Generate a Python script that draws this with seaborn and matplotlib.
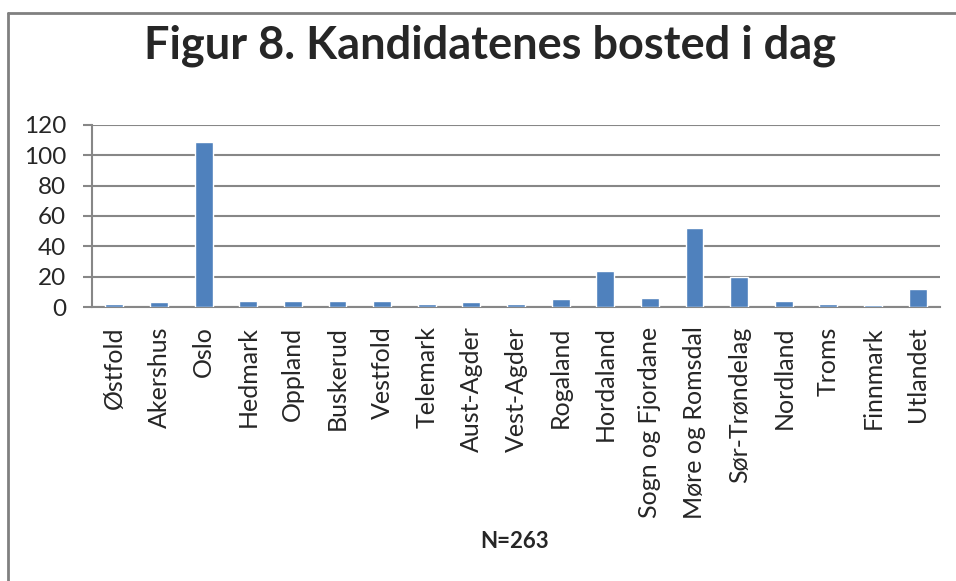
import matplotlib
matplotlib.use("Agg")
import matplotlib.pyplot as plt
import seaborn as sns
import pandas as pd

fylker = ["Østfold", "Akershus", "Oslo", "Hedmark", "Oppland", "Buskerud",
          "Vestfold", "Telemark", "Aust-Agder", "Vest-Agder", "Rogaland",
          "Hordaland", "Sogn og Fjordane", "Møre og Romsdal", "Sør-Trøndelag",
          "Nordland", "Troms", "Finnmark", "Utlandet"]
antall = [2, 3, 109, 4, 4, 4, 4, 2, 3, 2, 5, 24, 6, 52, 20, 4, 2, 1, 12]
y_ticks = [0, 20, 40, 60, 80, 100, 120]

data = pd.DataFrame({"fylke": fylker, "antall": antall})

sns.set_style("white")
plt.rcParams["font.family"] = ["Lato", "DejaVu Sans"]

W, H = 956, 581
fig = plt.figure(figsize=(W / 100, H / 100), dpi=100)
ax = fig.add_axes([92 / W, 1 - 307 / H, (940 - 92) / W, (307 - 125) / H])

grid = "#878787"
sns.barplot(x="fylke", y="antall", data=data, color="#4F81BD",
            width=0.4, saturation=1, ax=ax, zorder=3)

ax.set_ylim(0, 120)
ax.set_xlim(-0.5, len(fylker) - 0.5)
ax.set_yticks(y_ticks)
ax.set_yticklabels([str(v) for v in y_ticks], fontsize=17.5)
ax.set_xticks(range(len(fylker)))
ax.set_xticklabels(fylker, rotation=90, fontsize=18)
ax.tick_params(axis="x", length=0, pad=14)
ax.tick_params(axis="y", length=6.5, width=1.5, color=grid, pad=12, direction="out", left=True)
ax.yaxis.grid(True, color=grid, linewidth=1.5, zorder=0)
ax.set_axisbelow(True)
ax.set_xlabel("")
ax.set_ylabel("")
for side in ["top", "right"]:
    ax.spines[side].set_visible(False)
for side in ["left", "bottom"]:
    ax.spines[side].set_color(grid)
    ax.spines[side].set_linewidth(1.5)

fig.text(490 / W, 1 - 46 / H, "Figur 8. Kandidatenes bosted i dag",
         ha="center", va="center", fontsize=32.5, fontweight="bold")
fig.text(515 / W, 1 - 542 / H, "N=263", ha="center", va="center",
         fontsize=16, fontweight="bold")

# outer frame (only top and left edges are visible)
fig.add_artist(plt.Line2D([8 / W, 1], [1 - 13 / H, 1 - 13 / H], color="#808080", linewidth=2))
fig.add_artist(plt.Line2D([8 / W, 8 / W], [0, 1 - 13 / H], color="#808080", linewidth=2))

fig.savefig("out.png", dpi=100)
